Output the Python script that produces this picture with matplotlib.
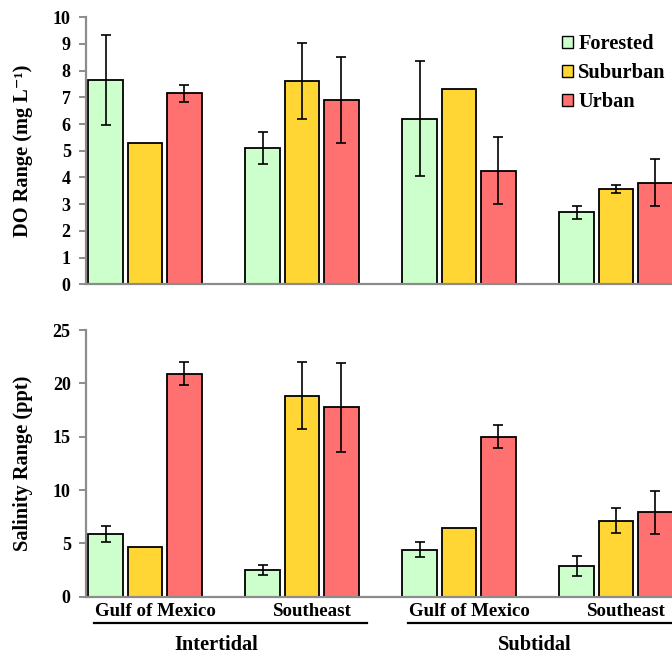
import numpy as np
import matplotlib
matplotlib.use("Agg")
import matplotlib.pyplot as plt
from matplotlib.patches import Patch
import matplotlib.transforms as mtransforms

# ---- data ----
regions = ["Gulf of Mexico", "Southeast", "Gulf of Mexico", "Southeast"]
zones = ["Intertidal", "Subtidal"]
land_use = ["Forested", "Suburban", "Urban"]

do_forested = [7.65, 5.10, 6.20, 2.70]
do_suburban = [5.28, 7.60, 7.30, 3.57]
do_urban = [7.15, 6.90, 4.25, 3.80]
do_forested_err = [1.70, 0.60, 2.15, 0.25]
do_suburban_err = [np.nan, 1.42, np.nan, 0.16]
do_urban_err = [0.32, 1.60, 1.25, 0.88]

sal_forested = [5.90, 2.50, 4.40, 2.90]
sal_suburban = [4.70, 18.85, 6.40, 7.10]
sal_urban = [20.90, 17.75, 15.00, 7.90]
sal_forested_err = [0.77, 0.50, 0.72, 0.92]
sal_suburban_err = [np.nan, 3.15, np.nan, 1.17]
sal_urban_err = [1.10, 4.20, 1.06, 2.05]

do_ticks = list(range(0, 11))
sal_ticks = [0, 5, 10, 15, 20, 25]

colors = ["#CCFFCC", "#FFD633", "#FF7070"]
SERIF = "Liberation Serif"
plt.rcParams["font.family"] = [SERIF, "DejaVu Serif"]
plt.rcParams["font.weight"] = "bold"

fig = plt.figure(figsize=(6.72, 6.56), dpi=100)
W, H = 672, 656
left = 86 / W
width = 589 / W
ax1 = fig.add_axes([left, (H - 284.3) / H, width, 267 / H])
ax2 = fig.add_axes([left, (H - 596.7) / H, width, 266.7 / H])

x = np.arange(len(regions))
bw = 0.222
offs = [-0.25, 0.0, 0.25]

def draw(ax, vals, errs, ylim, ticks, ylabel):
    for i, (v, e) in enumerate(zip(vals, errs)):
        ax.bar(x + offs[i], v, width=bw, color=colors[i], edgecolor="black",
               linewidth=1.3, zorder=2, label=land_use[i])
        e = np.array(e, dtype=float)
        m = ~np.isnan(e)
        ax.errorbar((x + offs[i])[m], np.array(v)[m], yerr=e[m], fmt="none",
                    ecolor="black", elinewidth=1.2, capsize=3.5, capthick=1.2, zorder=3)
    ax.set_xlim(-0.376, 3.376)
    ax.set_ylim(*ylim)
    ax.set_yticks(ticks)
    ax.set_yticklabels([str(t) for t in ticks], fontsize=13, fontweight="bold")
    ax.set_xticks([])
    for s in ["top", "right"]:
        ax.spines[s].set_visible(False)
    for s in ["left", "bottom"]:
        ax.spines[s].set_color("#8C8C8C")
        ax.spines[s].set_linewidth(1.6)
    ax.tick_params(axis="y", direction="out", length=5, width=1.4, color="#8C8C8C", pad=6)
    ax.set_ylabel(ylabel, fontsize=14.7, fontweight="bold",
                  family=[SERIF, "DejaVu Serif"])
    ax.yaxis.set_label_coords(-0.090, 0.5)

draw(ax1, [do_forested, do_suburban, do_urban],
     [do_forested_err, do_suburban_err, do_urban_err], (0, 10), do_ticks,
     "DO Range (mg L\u207b\u00b9)")
draw(ax2, [sal_forested, sal_suburban, sal_urban],
     [sal_forested_err, sal_suburban_err, sal_urban_err], (0, 25), sal_ticks,
     "Salinity Range (ppt)")

# legend
handles = [Patch(facecolor=c, edgecolor="black", linewidth=1.0) for c in colors]
fig.legend(handles, land_use, loc="upper left",
           bbox_to_anchor=(562 / W, 1 - 34 / H), frameon=False,
           prop={"family": SERIF, "weight": "bold", "size": 14.7},
           handlelength=0.55, handleheight=0.55, handletextpad=0.25,
           labelspacing=0.45, borderpad=0, borderaxespad=0)

# group labels
trans = mtransforms.blended_transform_factory(ax2.transData, ax2.transAxes)
for xi, r in zip(x, regions):
    ax2.text(xi + 0.065, -0.054, r, transform=trans, ha="center", va="center",
             fontsize=13.6, fontweight="bold", clip_on=False)

ax2.plot([-0.325, 1.414], [-0.0975, -0.0975], transform=trans, color="black",
         linewidth=1.6, clip_on=False)
ax2.plot([1.677, 3.5], [-0.0975, -0.0975], transform=trans, color="black",
         linewidth=1.6, clip_on=False)
ax2.text(0.456, -0.181, zones[0], transform=trans, ha="center", va="center",
         fontsize=14.7, fontweight="bold", clip_on=False)
ax2.text(2.48, -0.181, zones[1], transform=trans, ha="center", va="center",
         fontsize=14.7, fontweight="bold", clip_on=False)

fig.savefig("out.png", dpi=100)
